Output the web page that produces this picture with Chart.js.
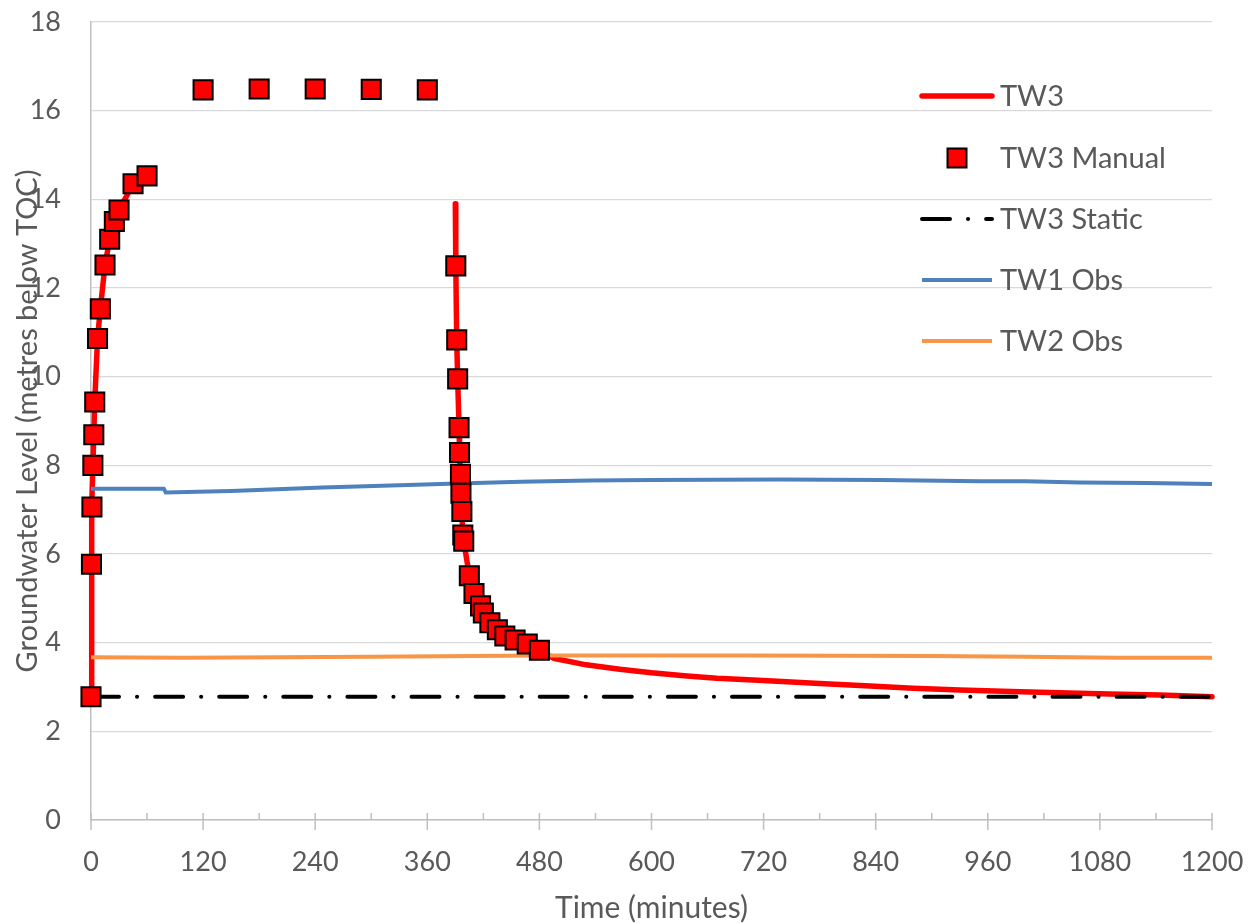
<!DOCTYPE html>
<html><head><meta charset="utf-8">
<script src="https://cdn.jsdelivr.net/npm/chart.js@4.4.0/dist/chart.umd.min.js"></script>
<style>html,body{margin:0;padding:0;background:#fff;}canvas{display:block;}</style>
</head><body>
<canvas id="c" width="1258" height="924"></canvas>
<script>
// ---------- DATA ----------
const seriesNames = ['TW3', 'TW3 Manual', 'TW3 Static', 'TW1 Obs', 'TW2 Obs'];

// TW3 logger (pumping, gap, recovery)
const tw3Time  = [0, 0.5, 1, 2, 3, 4, 7, 10, 15, 20, 25, 30, 40, 45, 200,
  390, 390.5, 391.5, 392.5, 394, 394.5, 395.5, 396, 397, 398, 399, 405, 410, 417, 420, 427, 435, 443, 454, 467, 480,
  495, 530, 566, 600, 638, 670, 709, 745, 780, 834, 880, 930, 985, 1037, 1090, 1144, 1200];
const tw3Level = [2.78, 5.77, 7.06, 8.00, 8.69, 9.43, 10.86, 11.53, 12.52, 13.10, 13.50, 13.76, 14.15, 14.35, null,
  13.90, 12.50, 10.83, 9.95, 8.85, 8.29, 7.80, 7.37, 6.96, 6.43, 6.29, 5.51, 5.11, 4.83, 4.67, 4.45, 4.29, 4.15, 4.06, 3.97, 3.83,
  3.65, 3.50, 3.40, 3.32, 3.25, 3.20, 3.16, 3.12, 3.08, 3.02, 2.97, 2.93, 2.90, 2.87, 2.84, 2.82, 2.78];

// TW3 manual dips
const manualTime  = [0, 0.5, 1, 2, 3, 4, 7, 10, 15, 20, 25, 30, 45, 60, 120, 180, 240, 300, 360,
  390.5, 391.5, 392.5, 394, 394.5, 395.5, 396, 397, 398, 399, 405, 410, 417, 420, 427, 435, 443, 454, 467, 480];
const manualLevel = [2.78, 5.77, 7.06, 8.00, 8.69, 9.43, 10.86, 11.53, 12.52, 13.10, 13.50, 13.76, 14.35, 14.53, 16.47, 16.49, 16.49, 16.48, 16.47,
  12.50, 10.83, 9.95, 8.85, 8.29, 7.80, 7.37, 6.96, 6.43, 6.29, 5.51, 5.11, 4.83, 4.67, 4.45, 4.29, 4.15, 4.06, 3.97, 3.83];

// TW3 static level
const staticTime  = [0, 1200];
const staticLevel = [2.78, 2.78];

// TW1 observation
const tw1Time  = [0, 78, 80, 150, 248, 330, 392, 460, 534, 600, 737, 845, 952, 1000, 1059, 1130, 1200];
const tw1Level = [7.47, 7.47, 7.39, 7.42, 7.50, 7.55, 7.59, 7.63, 7.66, 7.67, 7.68, 7.67, 7.64, 7.64, 7.61, 7.60, 7.58];

// TW2 observation
const tw2Time  = [0, 100, 300, 480, 700, 900, 1000, 1100, 1200];
const tw2Level = [3.67, 3.66, 3.68, 3.71, 3.71, 3.70, 3.68, 3.66, 3.66];

// Axis ticks
const xMajorTicks = [0, 120, 240, 360, 480, 600, 720, 840, 960, 1080, 1200];
const xMinorTicks = [60, 180, 300, 420, 540, 660, 780, 900, 1020, 1140];
const yTicks = [0, 2, 4, 6, 8, 10, 12, 14, 16, 18];

// ---------- BUILD ----------
const pts = (xs, ys) => xs.map((x, i) => ({x: x, y: ys[i]}));
const FONT = 'Lato';
const TXT = '#595959';

const xTickPlugin = {
  id: 'xTickMarks',
  beforeDatasetsDraw(chart) {
    const ctx = chart.ctx, xs = chart.scales.x, b = chart.chartArea.bottom;
    ctx.save();
    ctx.strokeStyle = '#bfbfbf';
    ctx.lineWidth = 1.5;
    ctx.beginPath();
    xMajorTicks.forEach(v => { const p = xs.getPixelForValue(v); ctx.moveTo(p, b - 7); ctx.lineTo(p, b + 10); });
    xMinorTicks.forEach(v => { const p = xs.getPixelForValue(v); ctx.moveTo(p, b - 7); ctx.lineTo(p, b); });
    ctx.stroke();
    ctx.restore();
  }
};

const legendPlugin = {
  id: 'customLegend',
  afterDraw(chart) {
    const ctx = chart.ctx;
    const rows = [96, 158, 219, 280, 341];
    const x0 = 922, x1 = 992, tx = 1000;
    ctx.save();
    chart.data.datasets.forEach((ds, i) => {
      const y = rows[i];
      if (ds.showLine === false) {
        const s = 19;
        ctx.fillStyle = ds.pointBackgroundColor;
        ctx.strokeStyle = ds.pointBorderColor;
        ctx.lineWidth = 2;
        ctx.fillRect(957 - s / 2, y - s / 2, s, s);
        ctx.strokeRect(957 - s / 2, y - s / 2, s, s);
      } else {
        ctx.strokeStyle = ds.borderColor;
        ctx.lineWidth = ds.borderWidth;
        ctx.lineCap = ds.borderCapStyle || 'round';
        ctx.setLineDash(ds.borderDash || []);
        ctx.beginPath(); ctx.moveTo(x0, y); ctx.lineTo(x1, y); ctx.stroke();
        ctx.setLineDash([]);
      }
      ctx.fillStyle = TXT;
      ctx.font = '29px ' + FONT;
      ctx.textBaseline = 'middle';
      ctx.textAlign = 'left';
      ctx.fillText(ds.label, tx, y + 1);
    });
    ctx.restore();
  }
};

new Chart(document.getElementById('c'), {
  type: 'line',
  data: {
    datasets: [
      { label: seriesNames[0], data: pts(tw3Time, tw3Level), borderColor: '#ff0000', borderWidth: 5.5,
        pointRadius: 0, spanGaps: false, tension: 0, borderCapStyle: 'round', borderJoinStyle: 'round', order: 4, clip: false },
      { label: seriesNames[1], data: pts(manualTime, manualLevel), showLine: false, pointStyle: 'rect',
        pointRadius: 13.5, pointBackgroundColor: '#ff0000', pointBorderColor: '#000000', pointBorderWidth: 2,
        backgroundColor: '#ff0000', borderColor: '#000000', order: 0, clip: false },
      { label: seriesNames[2], data: pts(staticTime, staticLevel), borderColor: '#000000', borderWidth: 4,
        borderDash: [28, 18, 0.1, 18], borderCapStyle: 'round', pointRadius: 0, order: 3 },
      { label: seriesNames[3], data: pts(tw1Time, tw1Level), borderColor: '#4f81bd', borderWidth: 4,
        pointRadius: 0, tension: 0, borderCapStyle: 'butt', order: 2 },
      { label: seriesNames[4], data: pts(tw2Time, tw2Level), borderColor: '#f79646', borderWidth: 4,
        pointRadius: 0, tension: 0, borderCapStyle: 'butt', order: 1 }
    ]
  },
  options: {
    responsive: false,
    animation: false,
    devicePixelRatio: 1,
    layout: { padding: { left: 0, right: 46, top: 22, bottom: 0 } },
    plugins: { legend: { display: false }, tooltip: { enabled: false } },
    scales: {
      x: {
        type: 'linear', min: 0, max: 1200,
        afterBuildTicks: s => { s.ticks = xMajorTicks.map(v => ({value: v})); },
        afterFit: s => { s.height = 104; s.paddingLeft = 0; s.paddingRight = 0; },
        ticks: { autoSkip: false, maxRotation: 0, padding: 26, color: TXT, font: { family: FONT, size: 27 },
                 callback: v => String(v) },
        grid: { display: false, drawTicks: false },
        border: { display: true, color: '#bfbfbf', width: 1.5 },
        title: { display: true, text: 'Time (minutes)', color: TXT, font: { family: FONT, size: 30 }, padding: { top: 0, bottom: -2 } }
      },
      y: {
        type: 'linear', min: 0, max: 18,
        afterBuildTicks: s => { s.ticks = yTicks.map(v => ({value: v})); },
        afterFit: s => { s.width = 91; s.paddingTop = 0; s.paddingBottom = 0; },
        ticks: { padding: 30, color: TXT, font: { family: FONT, size: 27 }, callback: v => String(v) },
        grid: { color: '#d9d9d9', lineWidth: 1.3, drawTicks: false },
        border: { display: true, color: '#bfbfbf', width: 1.5 },
        title: { display: true, text: 'Groundwater Level (metres below TOC)', color: TXT, font: { family: FONT, size: 29 }, padding: { top: 10.5, bottom: 0 } }
      }
    }
  },
  plugins: [xTickPlugin, legendPlugin]
});
</script>
</body></html>
